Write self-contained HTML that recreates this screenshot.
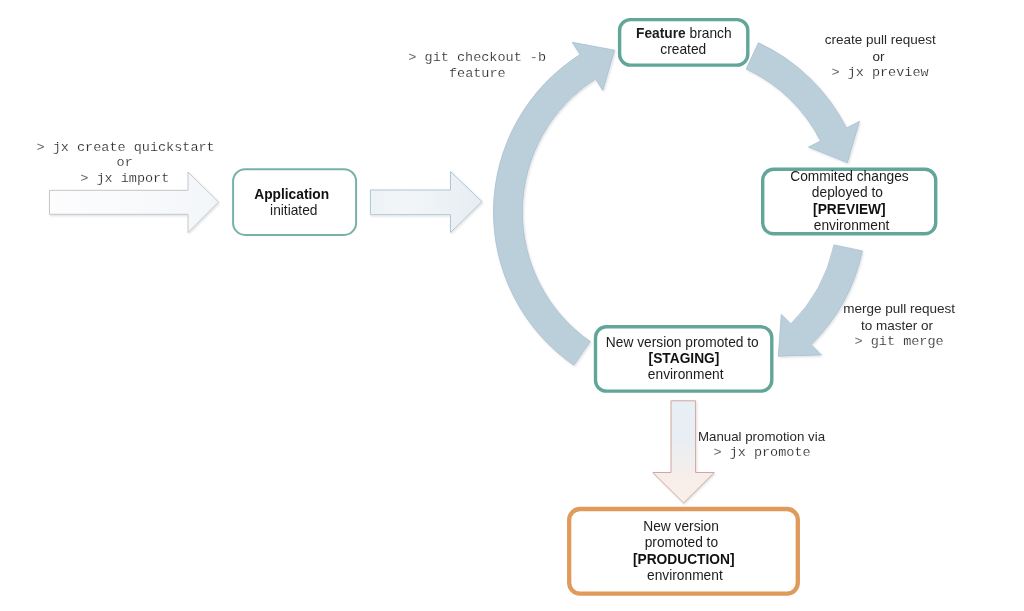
<!DOCTYPE html>
<html><head><meta charset="utf-8"><style>
html,body{margin:0;padding:0;background:#fff;}
body{width:1024px;height:611px;overflow:hidden;position:relative;}
svg{position:absolute;left:0;top:0;will-change:transform;}
text{text-anchor:middle;}
.s{font-family:"Liberation Sans",sans-serif;font-size:13.5px;fill:#1c1c1c;}
.b{font-family:"Liberation Sans",sans-serif;font-size:13.5px;font-weight:bold;fill:#111;}
.l{font-family:"Liberation Sans",sans-serif;font-size:13.5px;fill:#2a2a2a;}
.m{font-family:"Liberation Mono",monospace;font-size:13.5px;fill:#2a2a2a;stroke:#fff;stroke-width:0.18px;}
</style></head><body>
<svg width="1024" height="611" viewBox="0 0 1024 611">
<defs>
<filter id="sh" x="-5%" y="-5%" width="115%" height="115%"><feDropShadow dx="1" dy="1.2" stdDeviation="0.9" flood-color="#000" flood-opacity="0.13"/></filter>
<linearGradient id="g1" x1="0" y1="0" x2="1" y2="0"><stop offset="0" stop-color="#fdfdfe"/><stop offset="1" stop-color="#f3f6f9"/></linearGradient>
<linearGradient id="g2" x1="0" y1="0" x2="1" y2="0"><stop offset="0" stop-color="#edf2f5"/><stop offset="0.3" stop-color="#f2f6f8"/><stop offset="1" stop-color="#e6edf2"/></linearGradient>
<linearGradient id="g3" x1="0" y1="0" x2="0" y2="1"><stop offset="0" stop-color="#e9f0f5"/><stop offset="0.35" stop-color="#e8eef3"/><stop offset="0.75" stop-color="#f7eeea"/><stop offset="1" stop-color="#f9efeb"/></linearGradient>
</defs>
<path d="M49.5,190.3 L188.0,190.3 L188.0,172.0 L218.5,202.0 L188.0,232.6 L188.0,214.3 L49.5,214.3 Z" fill="url(#g1)" stroke="#c4c8cc" stroke-width="1" filter="url(#sh)"/>
<path d="M370.4,190.0 L450.5,190.0 L450.5,171.5 L482.0,201.6 L450.5,232.5 L450.5,214.7 L370.4,214.7 Z" fill="url(#g2)" stroke="#aec7d5" stroke-width="1" filter="url(#sh)"/>
<path d="M671,400.8 L695.6,400.8 L695.6,472.5 L714.3,472.5 L683.6,503 L652.8,472.5 L671,472.5 Z" fill="url(#g3)" stroke="#d0a69e" stroke-width="1" filter="url(#sh)"/>
<path d="M573.8,365.3 A186.5,186.5 0 0 1 580.1,54.5 L572.3,42.3 L614.6,50.2 L602.8,90.4 L595.6,79.0 A157.5,157.5 0 0 0 590.3,341.5 Z" fill="#bbcfdb" stroke="#a7bfd0" stroke-width="0.8" stroke-linejoin="miter" filter="url(#sh)"/>
<path d="M758.4,42.8 A186.5,186.5 0 0 1 846.5,127.9 L859.4,121.4 L847.4,162.7 L808.5,147.1 L820.6,141.0 A157.5,157.5 0 0 0 746.2,69.1 Z" fill="#bbcfdb" stroke="#a7bfd0" stroke-width="0.8" stroke-linejoin="miter" filter="url(#sh)"/>
<path d="M862.4,250.9 A186.5,186.5 0 0 1 811.2,344.6 L821.4,354.9 L778.3,356.2 L781.3,314.4 L790.8,324.0 A157.5,157.5 0 0 0 834.0,244.9 Z" fill="#bbcfdb" stroke="#a7bfd0" stroke-width="0.8" stroke-linejoin="miter" filter="url(#sh)"/>
<rect x="233.1" y="169.2" width="123.0" height="65.7" rx="12.0" fill="#fff" stroke="#76b2a7" stroke-width="2.0"/>
<rect x="619.6" y="19.6" width="128.2" height="45.5" rx="10.8" fill="#fff" stroke="#62a699" stroke-width="3.4"/>
<rect x="762.7" y="169.3" width="173.0" height="64.5" rx="10.8" fill="#fff" stroke="#62a699" stroke-width="3.4"/>
<rect x="595.5" y="326.8" width="176.3" height="64.3" rx="10.8" fill="#fff" stroke="#62a699" stroke-width="3.4"/>
<rect x="569.2" y="509.0" width="228.6" height="84.6" rx="10.8" fill="#fff" stroke="#df9a5c" stroke-width="4.3"/>
<text x="125.60" y="151.40" class="m" style="font-size:13.50px">&gt; jx create quickstart</text>
<text x="116.60" y="166.40" class="m" style="font-size:13.50px;text-anchor:start">or</text>
<text x="80.20" y="182.00" class="m" style="font-size:13.50px;text-anchor:start">&gt; jx import</text>
<text x="291.70" y="198.50" class="b" style="font-size:13.75px">Application</text>
<text x="293.80" y="214.50" class="s" style="font-size:13.75px">initiated</text>
<text x="477.20" y="61.40" class="m" style="font-size:13.50px">&gt; git checkout -b</text>
<text x="477.30" y="77.00" class="m" style="font-size:13.50px">feature</text>
<text x="683.80" y="38.40" class="s" style="font-size:13.75px"><tspan font-weight="bold">Feature</tspan> branch</text>
<text x="683.30" y="54.30" class="s" style="font-size:13.75px">created</text>
<text x="880.30" y="44.00" class="l" style="font-size:13.50px">create pull request</text>
<text x="878.40" y="60.60" class="l" style="font-size:13.50px">or</text>
<text x="880.00" y="76.30" class="m" style="font-size:13.50px">&gt; jx preview</text>
<text x="849.50" y="180.80" class="s" style="font-size:13.75px">Commited changes</text>
<text x="847.40" y="197.40" class="s" style="font-size:13.75px">deployed to</text>
<text x="849.40" y="213.80" class="b" style="font-size:13.75px">[PREVIEW]</text>
<text x="851.60" y="230.20" class="s" style="font-size:13.75px">environment</text>
<text x="899.10" y="313.20" class="l" style="font-size:13.50px">merge pull request</text>
<text x="897.00" y="329.90" class="l" style="font-size:13.50px">to master or</text>
<text x="899.10" y="345.10" class="m" style="font-size:13.50px">&gt; git merge</text>
<text x="682.30" y="346.60" class="s" style="font-size:13.75px">New version promoted to</text>
<text x="684.00" y="363.00" class="b" style="font-size:13.75px">[STAGING]</text>
<text x="685.70" y="379.20" class="s" style="font-size:13.75px">environment</text>
<text x="761.50" y="440.50" class="l" style="font-size:13.30px">Manual promotion via</text>
<text x="762.00" y="455.90" class="m" style="font-size:13.50px">&gt; jx promote</text>
<text x="681.10" y="531.00" class="s" style="font-size:13.75px">New version</text>
<text x="681.40" y="547.10" class="s" style="font-size:13.75px">promoted to</text>
<text x="683.70" y="564.10" class="b" style="font-size:13.75px">[PRODUCTION]</text>
<text x="684.90" y="580.10" class="s" style="font-size:13.75px">environment</text>
</svg>
</body></html>
